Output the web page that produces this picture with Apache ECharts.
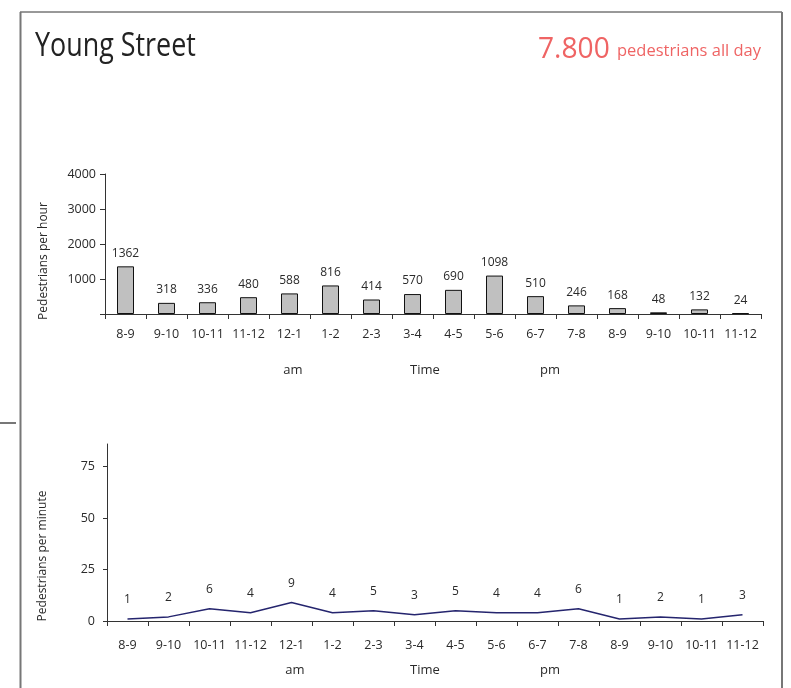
<!DOCTYPE html>
<html>
<head>
<meta charset="utf-8">
<title>Young Street</title>
<script src="https://cdn.jsdelivr.net/npm/echarts@6/dist/echarts.min.js"></script>
<style>
  html, body { margin: 0; padding: 0; background: #fff; }
  #chart { width: 791px; height: 688px; }
</style>
</head>
<body>
<div id="chart"></div>
<script>
// hour slots, 8am to midnight
const hours = ['8-9', '9-10', '10-11', '11-12', '12-1', '1-2', '2-3', '3-4', '4-5', '5-6', '6-7', '7-8', '8-9', '9-10', '10-11', '11-12']
// counts per hour
const perHour = [1362, 318, 336, 480, 588, 816, 414, 570, 690, 1098, 510, 246, 168, 48, 132, 24]
// counts per minute
const perMinute = [1, 2, 6, 4, 9, 4, 5, 3, 5, 4, 4, 6, 1, 2, 1, 3]
const hourTicks = [0, 1000, 2000, 3000, 4000]
const hourLabels = [1000, 2000, 3000, 4000]
const minuteTicks = [0, 25, 50, 75]
const dayTotal = '7.800'

const font = 'Open Sans'
const ink = '#2a2a2a'
const red = '#ef6464'

const chart = echarts.init(document.getElementById('chart'))

const xAxisBase = (margin) => ({
  type: 'category',
  data: hours,
  axisLine: { lineStyle: { color: '#333', width: 1 } },
  axisTick: { show: true, interval: 0, length: 5, lineStyle: { color: '#333' } },
  axisLabel: { interval: 0, margin: margin, color: ink, fontFamily: font, fontSize: 12.5 },
  splitLine: { show: false }
})

function sideText (text, x, y, size) {
  return {
    type: 'text',
    x: x,
    y: y,
    style: {
      text: text,
      x: 0,
      y: 0,
      fill: ink,
      font: size + 'px "' + font + '"',
      align: 'center',
      verticalAlign: 'middle'
    }
  }
}

const plain = (v) => String(v)

const options = {
  animation: false,
  backgroundColor: '#fff',
  grid: [
    { left: 105, width: 656, top: 174, bottom: 374 },
    { left: 107, width: 656, top: 444, bottom: 67 }
  ],
  xAxis: [
    Object.assign(xAxisBase(14), { gridIndex: 0 }),
    Object.assign(xAxisBase(18), { gridIndex: 1 })
  ],
  yAxis: [
    {
      gridIndex: 0,
      type: 'value',
      min: 0,
      max: 4000,
      interval: 1000,
      axisLine: { show: true, lineStyle: { color: '#333' } },
      axisTick: { show: true, length: 5, customValues: hourTicks, lineStyle: { color: '#333' } },
      axisLabel: { customValues: hourLabels, formatter: plain, margin: 9, color: ink, fontFamily: font, fontSize: 12.5 },
      splitLine: { show: false }
    },
    {
      gridIndex: 1,
      type: 'value',
      min: 0,
      max: 86,
      axisLine: { show: true, lineStyle: { color: '#333' } },
      axisTick: { show: true, length: 4, customValues: minuteTicks, lineStyle: { color: '#333' } },
      axisLabel: { customValues: minuteTicks, formatter: plain, margin: 12, color: ink, fontFamily: font, fontSize: 12.5 },
      splitLine: { show: false }
    }
  ],
  series: [
    {
      name: 'per hour',
      type: 'bar',
      xAxisIndex: 0,
      yAxisIndex: 0,
      barWidth: 17,
      itemStyle: { color: '#c0c0c0', borderColor: '#111', borderWidth: 1 },
      label: { show: true, position: 'top', distance: 7, color: ink, fontFamily: font, fontSize: 12 },
      data: perHour
    },
    {
      name: 'per minute',
      type: 'line',
      xAxisIndex: 1,
      yAxisIndex: 1,
      symbol: 'circle',
      symbolSize: 0.1,
      itemStyle: { color: '#25256e' },
      lineStyle: { color: '#25256e', width: 1.5 },
      label: { show: true, position: 'top', distance: 13, color: ink, fontFamily: font, fontSize: 12 },
      data: perMinute
    }
  ],
  graphic: [
    // frame
    { type: 'line', shape: { x1: 20, y1: 12, x2: 782, y2: 12 }, style: { stroke: '#333', lineWidth: 1 } },
    { type: 'line', shape: { x1: 20.5, y1: 12, x2: 20.5, y2: 688 }, style: { stroke: '#777', lineWidth: 2 } },
    { type: 'line', shape: { x1: 782, y1: 12, x2: 782, y2: 688 }, style: { stroke: '#777', lineWidth: 2 } },
    { type: 'line', shape: { x1: 0, y1: 423, x2: 16, y2: 423 }, style: { stroke: '#777', lineWidth: 2 } },
    // heading
    {
      type: 'text',
      x: 35,
      y: 47,
      scaleX: 0.84,
      style: { text: 'Young Street', x: 0, y: 0, fill: '#222', font: '32px "' + font + '"', align: 'left', verticalAlign: 'middle' }
    },
    {
      type: 'text',
      x: 538,
      y: 50,
      scaleX: 0.97,
      style: { text: dayTotal, x: 0, y: 0, fill: red, font: '29px "' + font + '"', align: 'left', verticalAlign: 'middle' }
    },
    {
      type: 'text',
      x: 617,
      y: 51,
      scaleX: 0.97,
      style: { text: 'pedestrians all day', x: 0, y: 0, fill: red, font: '17px "' + font + '"', align: 'left', verticalAlign: 'middle' }
    },
    // axis names
    Object.assign(sideText('Pedestrians per hour', 44, 261, 12), { rotation: Math.PI / 2 }),
    Object.assign(sideText('Pedestrians per minute', 43, 556, 12), { rotation: Math.PI / 2 }),
    sideText('am', 293, 370, 13),
    sideText('Time', 425, 370, 13),
    sideText('pm', 550, 370, 13),
    sideText('am', 295, 670, 13),
    sideText('Time', 425, 670, 13),
    sideText('pm', 550, 670, 13)
  ]
}

chart.setOption(options)
</script>
</body>
</html>
